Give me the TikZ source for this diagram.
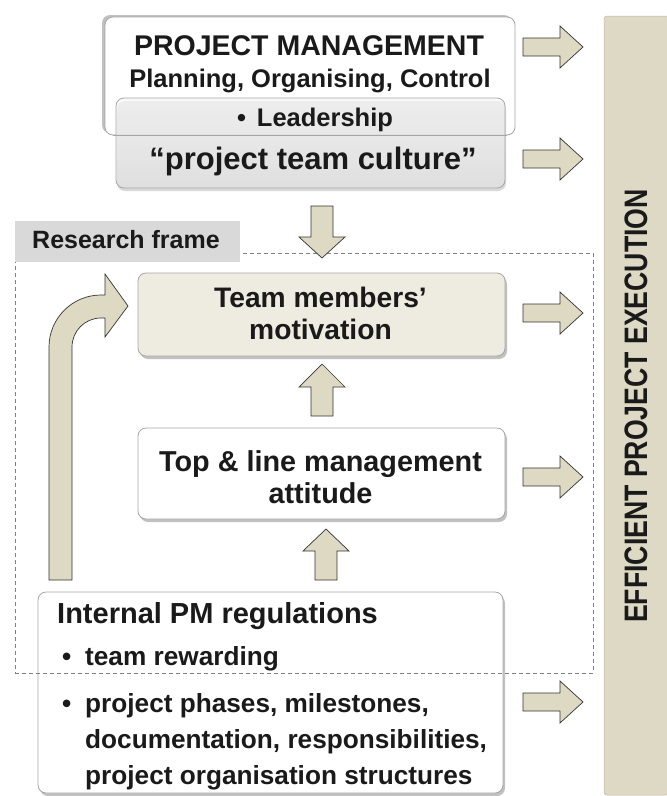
\documentclass[tikz,border=0pt]{standalone}
\usepackage{fontspec}
\setmainfont{Liberation Sans}
\newfontfamily\narrowf{Liberation Sans}[FakeStretch=0.82]
\usetikzlibrary{shadows}
\definecolor{arrowtan}{HTML}{DDD9C3}
\definecolor{boxtan}{HTML}{EEECE1}
\definecolor{efftan}{HTML}{DDD9C4}
\definecolor{textc}{HTML}{1A1A1A}
\definecolor{edgec}{HTML}{A6A6A6}
\newcommand\fsz[1]{\fontsize{#1}{#1}\selectfont}
\newcommand\rarr[2]{\draw[blockarrow] (523,#2-9) -- (560,#2-9) -- (560,#2-21) -- (583,#2) -- (560,#2+21) -- (560,#2+9) -- (523,#2+9) -- cycle;}
\tikzset{
  blockarrow/.style={fill=arrowtan, draw=black!80, line width=0.7pt, line join=miter},
  boxbase/.style={rectangle, rounded corners=8pt, draw=edgec, line width=0.8pt, inner sep=0pt},
  shadowbr/.style={drop shadow={shadow xshift=2pt, shadow yshift=-3pt, opacity=0.35, fill=black!70}},
  shadowtl/.style={drop shadow={shadow xshift=-3pt, shadow yshift=2pt, opacity=0.35, fill=black!70}},
  txt/.style={inner sep=0pt, text=textc, font=\bfseries},
}
\begin{document}
\begin{tikzpicture}[x=1pt,y=-1pt]
\useasboundingbox (0,0) rectangle (667,796);

% efficient execution bar
\node[rectangle, rounded corners=3pt, fill=efftan, draw=efftan!85!black, line width=0.5pt, minimum width=65pt, minimum height=779pt, inner sep=0pt] (eff) at (636.5,405.5) {};
\node[txt, rotate=90, font=\narrowf\bfseries\fsz{32.5}] (efftext) at (636,406) {EFFICIENT PROJECT EXECUTION};

% project management box
\node[boxbase, fill=white, shadowtl, minimum width=410pt, minimum height=118pt] (pm) at (310,76) {};
\node[boxbase, top color=black!3, bottom color=black!11, fill opacity=0.7, draw=edgec, minimum width=389pt, minimum height=90pt, drop shadow={shadow xshift=1pt, shadow yshift=-3pt, opacity=0.25, fill=black!60}] (culture) at (310.5,143) {};
\draw[edgec, line width=0.8pt] (pm.south west) ++(8,0) -- ([xshift=-8pt]pm.south east);
\node[txt, anchor=base, font=\bfseries\fsz{28.5}] (pmtitle) at (309,55) {PROJECT MANAGEMENT};
\node[txt, anchor=base, font=\bfseries\fsz{25.5}] (pmsub) at (310,87) {Planning, Organising, Control};
\node[txt, anchor=base, font=\bfseries\fsz{25.5}] (lead) at (315,126) {•\hspace{11pt}Leadership};
\node[txt, anchor=base, font=\bfseries\fsz{31}] (culturetext) at (313,169) {“project team culture”};

% team members box
\node[boxbase, fill=boxtan, shadowbr, minimum width=367pt, minimum height=83pt] (team) at (321.5,314.5) {};
\node[txt, anchor=base, font=\bfseries\fsz{28.2}] (team1) at (320.5,307) {Team members’};
\node[txt, anchor=base, font=\bfseries\fsz{28.2}] (team2) at (320.5,339) {motivation};

% top & line management box
\node[boxbase, fill=white, shadowbr, minimum width=367pt, minimum height=91pt] (top) at (321.5,473.5) {};
\node[txt, anchor=base, font=\bfseries\fsz{28.8}] (top1) at (320.5,471) {Top \& line management};
\node[txt, anchor=base, font=\bfseries\fsz{28.8}] (top2) at (320.5,503) {attitude};

% internal PM regulations box
\node[boxbase, fill=white, shadowbr, minimum width=465pt, minimum height=201pt] (internal) at (270.5,692.5) {};
\node[txt, anchor=base west, font=\bfseries\fsz{29}] (int0) at (57,623) {Internal PM regulations};
\node[txt, anchor=base west, font=\bfseries\fsz{26.2}] (bul1) at (62,665) {•};
\node[txt, anchor=base west, font=\bfseries\fsz{26.2}] (int1) at (85,665) {team rewarding};
\node[txt, anchor=base west, font=\bfseries\fsz{26.2}] (bul2) at (62,712) {•};
\node[txt, anchor=base west, font=\bfseries\fsz{26.2}] (int2) at (85,712) {project phases, milestones,};
\node[txt, anchor=base west, font=\bfseries\fsz{26.2}] (int3) at (85,748) {documentation, responsibilities,};
\node[txt, anchor=base west, font=\bfseries\fsz{26.2}] (int4) at (85,784) {project organisation structures};

% research frame (drawn over the boxes)
\node[rectangle, draw=black!50, dash pattern=on 4pt off 3pt, line width=0.9pt, minimum width=578pt, minimum height=420pt, inner sep=0pt] (frame) at (304,463) {};
\node[rectangle, fill=black!15, minimum width=225pt, minimum height=41pt, inner sep=0pt] (framelabel) at (127.5,241.5) {};
\node[txt, anchor=base west, font=\bfseries\fsz{25}] (frametext) at (32,248) {Research frame};

% right arrows to the execution bar
\rarr{r1}{47}
\rarr{r2}{159}
\rarr{r3}{313}
\rarr{r4}{477}
\rarr{r5}{702}

% down arrow culture -> team
\draw[blockarrow] (311,206) -- (333,206) -- (333,237) -- (345,237) -- (322,258) -- (299,237) -- (311,237) -- cycle;
% up arrow top -> team
\draw[blockarrow] (311,416) -- (333,416) -- (333,387) -- (345,387) -- (322,364) -- (299,387) -- (311,387) -- cycle;
% up arrow internal -> top
\draw[blockarrow] (315,580) -- (337,580) -- (337,551) -- (349,551) -- (326,529) -- (303,551) -- (315,551) -- cycle;

% bent arrow internal -> team
\draw[blockarrow] (49,580) -- (49,347) .. controls (49,318.3) and (72.3,295) .. (101,295) -- (105,295) -- (105,274) -- (128,306) -- (105,337) -- (105,318) -- (101,318) .. controls (85,318) and (72,331) .. (72,347) -- (72,580) -- cycle;
\end{tikzpicture}
\end{document}
